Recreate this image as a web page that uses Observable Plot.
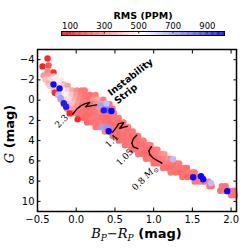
<!DOCTYPE html>
<html><head><meta charset="utf-8">
<script src="https://cdn.jsdelivr.net/npm/d3@7"></script>
<script src="https://cdn.jsdelivr.net/npm/@observablehq/plot@0.6"></script>
<style>
body{margin:0;background:#fff}
#chart{width:249px;height:249px;overflow:hidden;font-family:"DejaVu Sans"}
svg{display:block}
</style>
</head><body><div id="chart"></div>
<script>
// ---- axis ticks ----
const xTicks = [-0.5, 0, 0.5, 1, 1.5, 2];
const yTicks = [-4, -2, 0, 2, 4, 6, 8, 10];
const rmsTicks = [100, 300, 500, 700, 900];

// ---- upper tip of the sequence (BP-RP, G, RMS ppm) ----
const tipX = [-0.37,-0.435,-0.358,-0.37,-0.293,-0.42,-0.358,-0.293,-0.396,-0.332,-0.267,-0.202,-0.358,-0.228,-0.163];
const tipG = [-4.11,-3.33,-3.42,-2.83,-2.73,-2.44,-2.44,-2.34,-2.04,-2.04,-2.14,-1.95,-1.65,-1.65,-1.55];
const tipRms = [120,110,200,300,130,330,330,420,400,450,560,480,380,500,380];

// ---- main band, row by row ----
const rowG = [-1.4,-0.95,-0.5,-0.05,0.4,0.85,1.3,1.75,2.2,2.65,3.1,3.55,4.0,4.45,4.9,5.35,5.8,6.25,6.7,7.15,7.6,8.05,8.5,8.95,9.4];
const rowX = [
  [-0.34,-0.28,-0.22,-0.16,-0.11],
  [-0.29,-0.23,-0.17,-0.11,-0.05,0.01,0.07,0.11],
  [-0.24,-0.18,-0.12,-0.06,0.00,0.06,0.12,0.18,0.25],
  [-0.20,-0.14,-0.08,-0.02,0.04,0.10,0.16,0.22,0.28,0.35],
  [-0.16,-0.10,-0.04,0.02,0.08,0.14,0.20,0.26,0.32,0.38,0.43],
  [-0.12,-0.06,0.00,0.06,0.12,0.18,0.24,0.30,0.36,0.42,0.47],
  [-0.05,0.01,0.07,0.13,0.19,0.25,0.31,0.37,0.43,0.49],
  [0.03,0.09,0.15,0.21,0.27,0.33,0.39,0.45,0.51,0.55],
  [0.14,0.20,0.26,0.32,0.38,0.44,0.50,0.56,0.61],
  [0.25,0.31,0.37,0.43,0.49,0.55,0.61,0.67],
  [0.37,0.43,0.49,0.55,0.61,0.67,0.73],
  [0.47,0.53,0.59,0.65,0.71,0.77,0.80],
  [0.55,0.61,0.67,0.73,0.79,0.84,0.87],
  [0.63,0.69,0.75,0.81,0.87,0.93,0.96],
  [0.72,0.78,0.84,0.90,0.96,1.02,1.05],
  [0.80,0.86,0.92,0.98,1.04,1.10,1.14],
  [0.90,0.96,1.02,1.08,1.14,1.19,1.22],
  [1.00,1.06,1.12,1.18,1.24,1.29,1.33],
  [1.12,1.18,1.24,1.30,1.36,1.41,1.43],
  [1.22,1.28,1.34,1.40,1.46,1.51,1.53],
  [1.37,1.43,1.49,1.55,1.60,1.62],
  [1.53,1.59,1.65,1.71],
  [1.72,1.75,1.88,1.93],
  [1.86,1.92,1.98,2.04],
  [2.00,2.05]
];
const rowRms = [
  [430,500,480,420,340],
  [400,480,520,440,360,310,280,270],
  [360,470,500,420,340,290,270,260,280],
  [330,440,460,380,310,280,260,320,360,280],
  [310,400,410,330,280,270,260,310,350,320,270],
  [280,360,330,280,260,250,270,320,300,270,260],
  [270,280,260,250,260,270,290,270,260,270],
  [250,240,260,280,270,260,250,260,270,280],
  [240,260,270,280,260,250,270,260,280],
  [270,280,290,270,260,250,260,280],
  [290,270,260,250,270,260,270],
  [260,250,260,270,260,280,270],
  [250,260,270,260,250,260,280],
  [260,270,260,250,260,270,280],
  [250,260,270,260,250,270,290],
  [270,260,250,260,280,310,330],
  [260,270,260,270,290,320,300],
  [250,260,270,280,270,260,280],
  [260,250,260,270,280,270,260],
  [270,260,250,260,270,260,270],
  [260,250,260,270,260,280],
  [270,280,270,290],
  [270,260,270,260],
  [260,270,260,270],
  [270,260]
];

// ---- distinct stars (extreme RMS), drawn on top ----
const spotX = [-0.276,-0.085,0.018,-0.23,-0.20,0.316,0.38,0.39,0.41,0.34,0.40,1.25,1.74,-0.293,-0.215,-0.16,-0.13,0.355,0.455,0.42,1.51,1.61,1.64,1.95];
const spotG = [-0.73,1.31,1.90,-0.55,-0.20,0.52,0.52,0.32,1.01,2.71,2.71,5.84,8.20,-1.55,-1.16,0.30,0.65,1.01,1.08,3.08,7.61,7.51,7.81,8.99];
const spotRms = [120,110,120,650,700,700,720,640,800,700,720,650,650,980,980,950,950,950,990,990,990,990,990,990];

// ---- evolutionary tracks ----
const trk23 = [[-0.047,1.40],[0.005,0.91],[0.057,0.57],[0.109,0.37],[0.174,0.22],[0.122,0.67],[0.187,0.57],[0.264,0.47]];
const trk14 = [[0.468,3.18],[0.523,2.64],[0.549,2.32],[0.614,2.24],[0.562,2.78],[0.659,2.59]];
const trk105 = [[0.782,3.47],[0.737,3.82],[0.718,4.26],[0.737,4.61],[0.795,4.80]];
const trk08 = [[0.970,4.61],[0.938,5.0],[0.951,5.39],[0.996,5.74],[1.054,5.99],[1.106,6.23]];
const trackLabel = ["2.3","1.4","1.05","0.8 M⊙"];
const trackLabelX = [-0.189,0.459,0.627,0.886];
const trackLabelG = [2.09,4.06,5.64,7.66];

// ---- annotation ----
const noteText = ["Instability\nStrip"];
const noteX = [0.464];
const noteG = [-0.24];

// ---- build tables ----
const points = [];
tipX.forEach((x,i)=>points.push({x, g: tipG[i], rms: tipRms[i]}));
rowG.forEach((g,r)=>rowX[r].forEach((x,i)=>points.push({x, g, rms: rowRms[r][i]})));
spotX.forEach((x,i)=>points.push({x, g: spotG[i], rms: spotRms[i]}));
const tracks = [];
[[trk23,"2.3"],[trk14,"1.4"],[trk105,"1.05"],[trk08,"0.8"]].forEach(([t,id])=>t.forEach(([x,g])=>tracks.push({x,g,id})));
const labels = trackLabel.map((t,i)=>({t, x: trackLabelX[i], g: trackLabelG[i]}));
const notes = noteText.map((t,i)=>({t, x: noteX[i], g: noteG[i]}));

const colorOpts = {type:"linear", domain:[50,525,1000], range:["#ff0000","#ffffff","#0000ff"], interpolate:"rgb"};
const minus = s => String(s).replace("-", "−");
const blank = () => "";

// ---- colour bar ----
const rampStops = d3.range(50, 1000, 5);
const bar = Plot.plot({
  width: 249, height: 40,
  marginLeft: 61, marginRight: 25, marginTop: 31, marginBottom: 5,
  style: {fontFamily: "DejaVu Sans", fontSize: "8.5px", color: "black", background: "white"},
  x: {domain: [50, 1000], label: null},
  y: {domain: [0, 1], axis: null},
  color: colorOpts,
  marks: [
    Plot.rect(rampStops, {x1: d=>d, x2: d=>d+5.5, y1: d=>0, y2: d=>1, fill: d=>d+2.5}),
    Plot.axisX({anchor: "top", ticks: rmsTicks, tickSize: 0, tickPadding: 3, label: null}),
    Plot.axisX({anchor: "top", ticks: rmsTicks, tickSize: -1.5, tickFormat: blank, label: null, stroke: "#333"}),
    Plot.frame({stroke: "black", strokeWidth: 1}),
    Plot.text(["RMS (PPM)"], {frameAnchor: "top", dy: -19, fontWeight: "bold", fontSize: 9.5})
  ]
});

// ---- main chart ----
const main = Plot.plot({
  width: 249, height: 209,
  marginLeft: 37, marginRight: 13, marginTop: 9, marginBottom: 38,
  style: {fontFamily: "DejaVu Sans", fontSize: "10px", color: "black", background: "white"},
  x: {domain: [-0.5, 2.07], label: null},
  y: {domain: [-5, 11], reverse: true, label: null},
  color: colorOpts,
  marks: [
    Plot.dot(points, {x: "x", y: "g", fill: "rms", r: 3.2}),
    Plot.line(tracks, {x: "x", y: "g", z: "id", stroke: "black", strokeWidth: 1.4, strokeLinejoin: "round"}),
    Plot.text(labels, {x: "x", y: "g", text: "t", rotate: -45, fontFamily: "DejaVu Serif", fontSize: 9}),
    Plot.text(notes, {x: "x", y: "g", text: "t", rotate: -38, textAnchor: "start", lineAnchor: "middle", fontWeight: "bold", fontSize: 9.5, lineHeight: 1.1}),
    Plot.axisX({ticks: xTicks, tickSize: 0, tickPadding: 4, tickFormat: d => d3.format(".1f")(d), label: null}),
    Plot.axisX({anchor: "bottom", ticks: xTicks, tickSize: -3.5, tickFormat: blank, label: null}),
    Plot.axisX({anchor: "top", ticks: xTicks, tickSize: -3.5, tickFormat: blank, label: null}),
    Plot.axisY({ticks: yTicks, tickSize: 0, tickPadding: 3, tickFormat: d => minus(d), label: null}),
    Plot.axisY({anchor: "left", ticks: yTicks, tickSize: -3.5, tickFormat: blank, label: null}),
    Plot.axisY({anchor: "right", ticks: yTicks, tickSize: -3.5, tickFormat: blank, label: null}),
    Plot.frame({stroke: "black", strokeWidth: 1.5})
  ]
});

const chart = document.getElementById("chart");
chart.appendChild(bar);
chart.appendChild(main);

// ---- rich axis labels ----
const svg = d3.select(main);
const xl = svg.append("text").attr("x", 136.5).attr("y", 197.5).attr("text-anchor", "middle").attr("font-size", 13).attr("fill", "black");
xl.append("tspan").attr("font-family", "DejaVu Serif").attr("font-style", "italic").text("B");
xl.append("tspan").attr("font-family", "DejaVu Serif").attr("font-style", "italic").attr("font-size", 9).attr("dy", 3).text("P");
xl.append("tspan").attr("font-family", "DejaVu Serif").attr("dy", -3).text("−");
xl.append("tspan").attr("font-family", "DejaVu Serif").attr("font-style", "italic").text("R");
xl.append("tspan").attr("font-family", "DejaVu Serif").attr("font-style", "italic").attr("font-size", 9).attr("dy", 3).text("P");
xl.append("tspan").attr("font-family", "DejaVu Sans").attr("font-weight", "bold").attr("dy", -3).text(" (mag)");

const yl = svg.append("text").attr("transform", "translate(14,94) rotate(-90)").attr("text-anchor", "middle").attr("font-size", 13).attr("fill", "black");
yl.append("tspan").attr("font-family", "DejaVu Serif").attr("font-style", "italic").text("G");
yl.append("tspan").attr("font-family", "DejaVu Sans").attr("font-weight", "bold").text(" (mag)");

svg.selectAll("text").filter(function(){ return this.textContent === "0.8 M⊙"; }).each(function(){
  const t = d3.select(this);
  t.text(null);
  t.append("tspan").text("0.8 ");
  t.append("tspan").attr("font-style", "italic").text("M");
  t.append("tspan").attr("font-size", 6.5).attr("dy", 2).text("⊙");
});
</script></body></html>
